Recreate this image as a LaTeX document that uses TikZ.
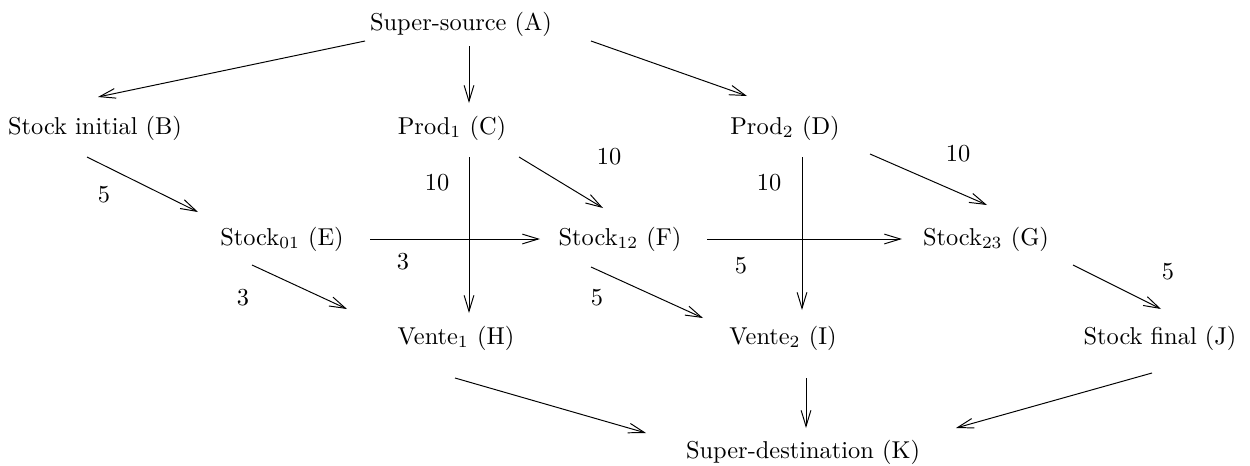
\documentclass[tikz,border=0pt]{standalone}
\usepackage{tikz}
\usetikzlibrary{arrows.meta}
\tikzset{
  ar/.style={-{Straight Barb[length=2.3mm,width=1.4mm]},line width=0.4pt},
  nd/.style={inner sep=0pt},
  wt/.style={inner sep=0pt}
}

\begin{document}
\begin{tikzpicture}[x=0.41pt,y=-0.41pt]
\useasboundingbox (0,0) rectangle (1250,465);
% nodes (pixel grid, y downwards)
\node[nd] (A) at (461,24) {Super-source (A)};
\node[nd] (B) at (95,128) {Stock initial (B)};
\node[nd] (C) at (452,128) {Prod$_1$ (C)};
\node[nd] (D) at (785,128) {Prod$_2$ (D)};
\node[nd] (E) at (282,239) {Stock$_{01}$ (E)};
\node[nd] (F) at (620,239) {Stock$_{12}$ (F)};
\node[nd] (G) at (986,239) {Stock$_{23}$ (G)};
\node[nd] (H) at (456,338) {Vente$_1$ (H)};
\node[nd] (I) at (783,338) {Vente$_2$ (I)};
\node[nd] (J) at (1160,338) {Stock final (J)};
\node[nd] (K) at (803,452) {Super-destination (K)};
% arcs
\draw[ar] ([shift={(-96,17)}]A.center) -- ([shift={(3,-31)}]B.center);
\draw[ar] ([shift={(8,22)}]A.center) -- ([shift={(17,-25)}]C.center);
\draw[ar] ([shift={(130,17)}]A.center) -- ([shift={(-38,-32)}]D.center);
\draw[ar] ([shift={(-8,29)}]B.center) -- ([shift={(-84,-27)}]E.center);
\draw[ar] ([shift={(17,29)}]C.center) -- ([shift={(13,-25)}]H.center);
\draw[ar] ([shift={(67,29)}]C.center) -- ([shift={(-17,-31)}]F.center);
\draw[ar] ([shift={(17,29)}]D.center) -- ([shift={(19,-28)}]I.center);
\draw[ar] ([shift={(85,26)}]D.center) -- ([shift={(1,-34)}]G.center);
\draw[ar] ([shift={(88,0)}]E.center) -- ([shift={(-80,0)}]F.center);
\draw[ar] ([shift={(-30,26)}]E.center) -- ([shift={(-109,-29)}]H.center);
\draw[ar] ([shift={(-29,28)}]F.center) -- ([shift={(-80,-20)}]I.center);
\draw[ar] ([shift={(87,0)}]F.center) -- ([shift={(-84,0)}]G.center);
\draw[ar] ([shift={(87,26)}]G.center) -- ([shift={(1,-29)}]J.center);
\draw[ar] ([shift={(-1,40)}]H.center) -- ([shift={(-157,-19)}]K.center);
\draw[ar] ([shift={(23,40)}]I.center) -- ([shift={(3,-24)}]K.center);
\draw[ar] ([shift={(-8,35)}]J.center) -- ([shift={(153,-24)}]K.center);
% capacities
\node[wt] (wBE) at (104,195) {5};
\node[wt] (wCH) at (437,183) {10};
\node[wt] (wCF) at (609,157) {10};
\node[wt] (wDI) at (769,183) {10};
\node[wt] (wDG) at (958,154) {10};
\node[wt] (wEF) at (403,262) {3};
\node[wt] (wEH) at (243,298) {3};
\node[wt] (wFG) at (741,266) {5};
\node[wt] (wFI) at (597,298) {5};
\node[wt] (wGJ) at (1168,272) {5};
\end{tikzpicture}
\end{document}
